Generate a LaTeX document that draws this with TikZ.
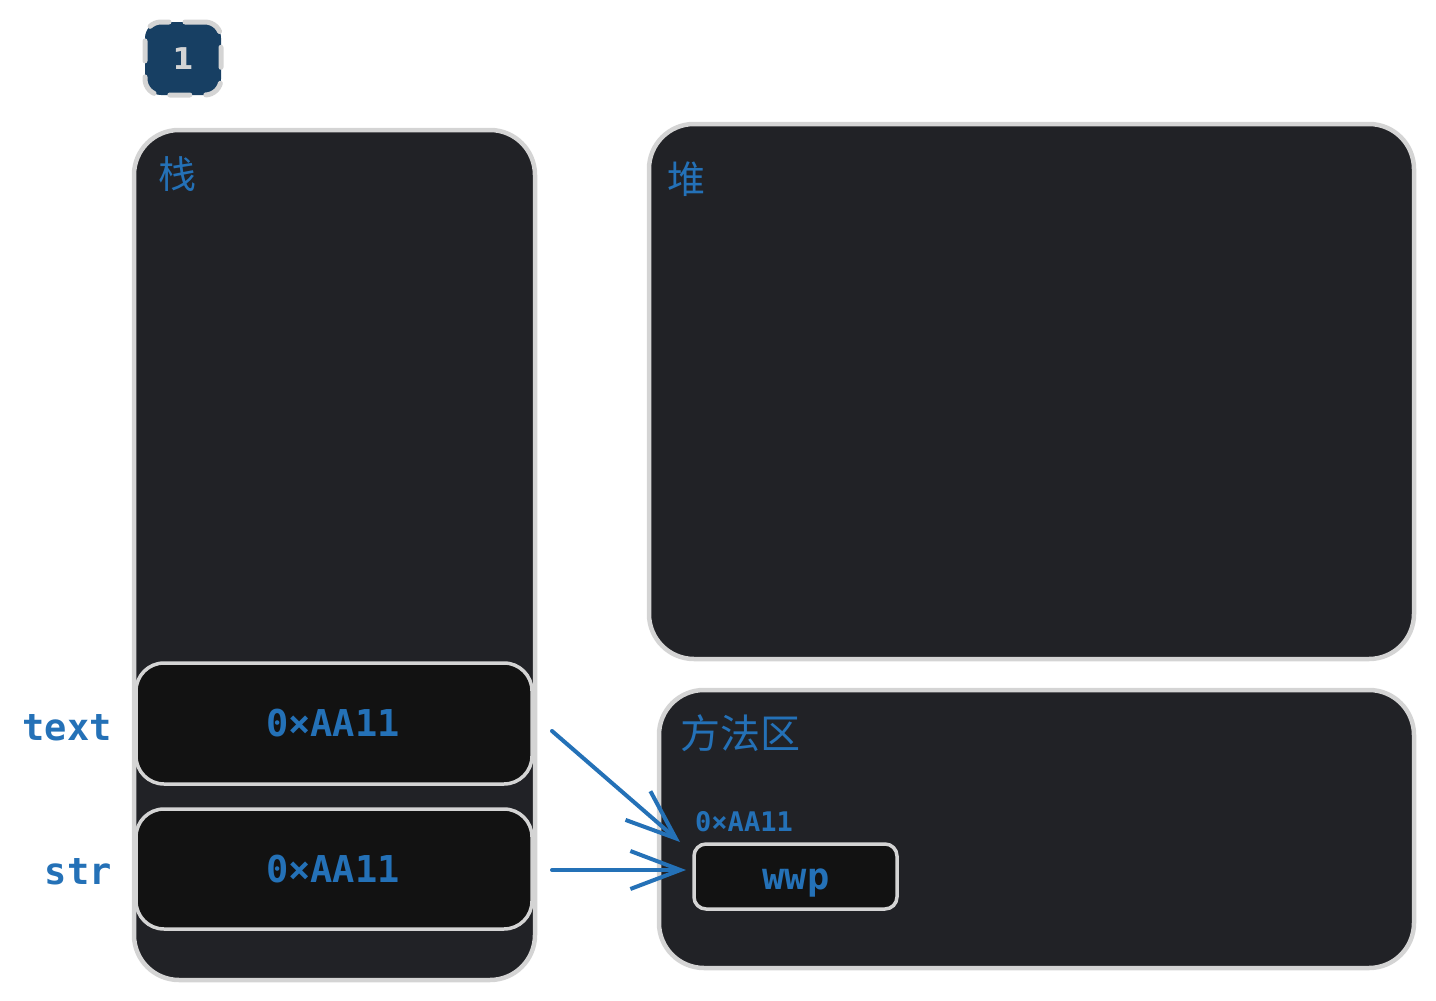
\documentclass[tikz,border=0pt]{standalone}
\usepackage{fontspec}
\setmonofont{DejaVu Sans Mono}
\newfontfamily\badgefont{DejaVu Sans}
\newfontfamily\cjk{Noto Sans CJK SC}
\usetikzlibrary{arrows.meta}
\definecolor{panel}{HTML}{212226}
\definecolor{cell}{HTML}{121212}
\definecolor{rim}{HTML}{D4D4D4}
\definecolor{ink}{HTML}{2471B7}
\definecolor{badgeblue}{HTML}{173F63}
\tikzset{
  area/.style={draw=rim, line width=4.5pt, fill=panel, rounded corners=45pt, inner sep=0pt},
  cellbox/.style={draw=rim, line width=3.5pt, fill=cell, rounded corners=28pt, inner sep=0pt},
  cjklabel/.style={text=ink, font=\cjk\fontsize{38}{40}\selectfont, inner sep=0pt},
  code/.style={text=ink, font=\ttfamily\bfseries\fontsize{37}{40}\selectfont, inner sep=0pt},
  smallcode/.style={text=ink, font=\ttfamily\bfseries\fontsize{27}{30}\selectfont, inner sep=0pt},
  ptr/.style={draw=ink, line width=4pt, line cap=round, -{Straight Barb[length=50pt,width=38pt]}}
}
\begin{document}
\begin{tikzpicture}[x=1pt,y=-1pt]
\useasboundingbox (0,0) rectangle (1436,1001);
% badge
\node[draw=rim, line width=5pt, dash pattern=on 20pt off 16pt, line cap=round, fill=badgeblue,
      rounded corners=16pt, minimum width=76pt, minimum height=73pt, inner sep=0pt,
      text=rim, font=\badgefont\bfseries\fontsize{30}{32}\selectfont] (badge) at (183,58.5) {1};
% areas
\node[area, minimum width=401pt, minimum height=850pt] (stack) at (334.5,555) {};
\node[area, minimum width=765pt, minimum height=535pt] (heap) at (1031.5,391.5) {};
\node[area, minimum width=755pt, minimum height=278pt] (method) at (1036.5,829) {};
\node[cjklabel] (stacklbl) at (177,174) {栈};
\node[cjklabel] (heaplbl) at (686,179) {堆};
\node[cjklabel, font=\cjk\fontsize{40}{42}\selectfont] (methodlbl) at (740,733) {方法区};
% stack cells
\node[cellbox, minimum width=396pt, minimum height=121pt] (textcell) at (334,723.5) {};
\node[cellbox, minimum width=396pt, minimum height=120pt] (strcell) at (334,869) {};
\node[code] (textval) at (333,723) {0×AA11};
\node[code] (strval) at (333,869) {0×AA11};
\node[code, anchor=east] (textname) at (112,728) {text};
\node[code, anchor=east] (strname) at (112,872) {str};
% method area content
\node[cellbox, rounded corners=12pt, minimum width=203pt, minimum height=65pt] (wwpcell) at (795.5,876.5) {};
\node[code] (wwp) at (796,883) {wwp};
\node[smallcode] (addr) at (744,822) {0×AA11};
% pointers
\coordinate (a1s) at (552,731);
\coordinate (a1e) at (680,842);
\coordinate (a2s) at (552,870);
\coordinate (a2e) at (686,870);
\draw[ptr] (a1s) -- (a1e);
\draw[ptr] (a2s) -- (a2e);
\end{tikzpicture}
\end{document}
